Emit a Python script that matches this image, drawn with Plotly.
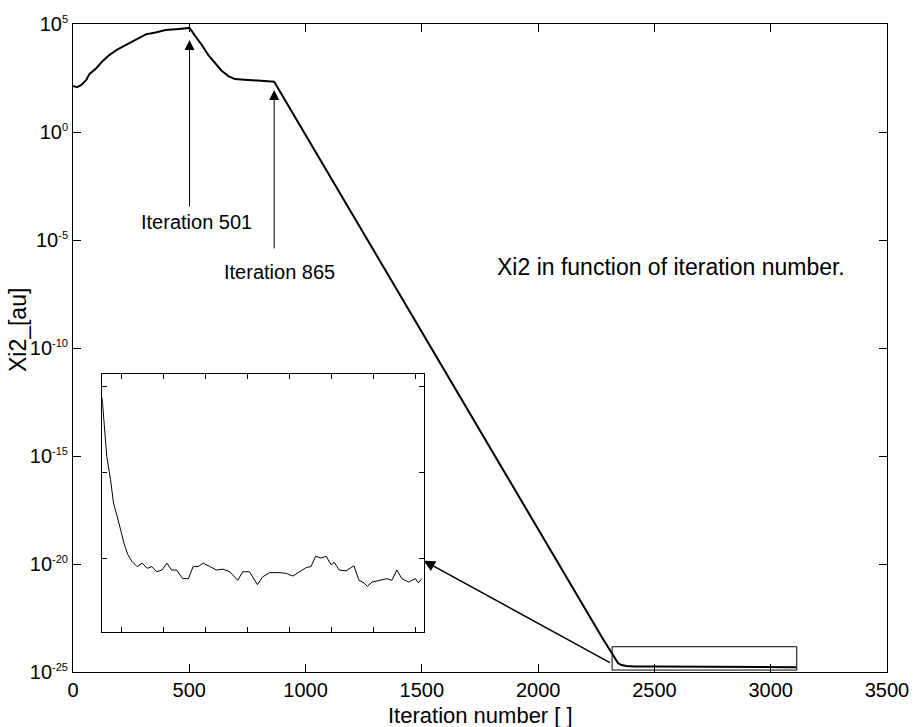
import plotly.graph_objects as go

# ---- main curve (iteration, log10 Xi2) ----
main_iter = [0, 17, 36, 57, 71, 100, 128, 156, 192, 228, 270, 313, 355, 398, 455, 494, 501,
             526, 554, 582, 611, 639, 668, 682, 696, 753, 824, 865,
             2273, 2300, 2315, 2330, 2344, 2358, 2380, 2414, 2499, 3110]
main_log = [2.13, 2.07, 2.18, 2.41, 2.69, 2.95, 3.29, 3.56, 3.83, 4.03, 4.29, 4.52, 4.61, 4.72,
            4.77, 4.81, 4.82, 4.44, 4.03, 3.56, 3.18, 2.84, 2.59, 2.51, 2.45, 2.41, 2.38, 2.33,
            -23.37, -23.85, -24.13, -24.4, -24.6, -24.68, -24.72, -24.74, -24.75, -24.78]

# ---- inset curve (zoom of the tail) ----
inset_iter = [2355, 2360, 2366, 2375, 2382, 2391, 2399, 2407, 2416, 2426, 2438, 2450, 2462,
              2473, 2485, 2497, 2509, 2520, 2532, 2546, 2560, 2571, 2583, 2595, 2611, 2626,
              2642, 2658, 2677, 2689, 2705, 2724, 2736, 2753, 2777, 2793, 2808, 2824, 2840,
              2851, 2862, 2875, 2887, 2899, 2906, 2918, 2934, 2953, 2965, 2977, 2985, 2996,
              3012, 3032, 3043, 3055, 3067, 3083, 3099, 3106, 3114]
inset_log = [-22.14, -22.51, -22.82, -23.09, -23.36, -23.52, -23.67, -23.83, -23.96, -24.04,
             -24.10, -24.06, -24.12, -24.10, -24.16, -24.14, -24.06, -24.14, -24.14, -24.24,
             -24.24, -24.10, -24.10, -24.06, -24.10, -24.14, -24.13, -24.16, -24.26, -24.16,
             -24.16, -24.31, -24.22, -24.17, -24.17, -24.18, -24.21, -24.16, -24.11, -24.10,
             -23.98, -24.00, -23.98, -24.08, -24.05, -24.14, -24.15, -24.09, -24.26, -24.29,
             -24.33, -24.28, -24.26, -24.24, -24.26, -24.14, -24.24, -24.28, -24.24, -24.29,
             -24.24]

x_ticks = [0, 500, 1000, 1500, 2000, 2500, 3000, 3500]
y_tick_exp = [5, 0, -5, -10, -15, -20, -25]
y_tick_text = ["10<sup><span style='font-size:11px'>%d</span></sup>" % e for e in y_tick_exp]
inset_xticks = [2400, 2500, 2600, 2700, 2800, 2900, 3000, 3100]
inset_ytick_exp = [-22, -23, -24]

FONT = "Liberation Sans, Arial, sans-serif"

fig = go.Figure()
fig.add_trace(go.Scatter(x=main_iter, y=[10 ** v for v in main_log], mode="lines",
                         line=dict(color="black", width=2),
                         showlegend=False, xaxis="x", yaxis="y"))
fig.add_trace(go.Scatter(x=inset_iter, y=[10 ** v for v in inset_log], mode="lines",
                         line=dict(color="black", width=1), showlegend=False,
                         xaxis="x2", yaxis="y2"))

axis_common = dict(showgrid=False, zeroline=False, showline=True, linecolor="black",
                   linewidth=1, mirror="ticks", ticks="inside", tickcolor="black")

fig.update_layout(
    width=921, height=727,
    margin=dict(l=73, r=27, t=24, b=55),
    paper_bgcolor="white", plot_bgcolor="white",
    font=dict(family=FONT, size=20, color="black"),
    xaxis=dict(range=[0, 3500], tickvals=x_ticks, ticklen=8, domain=[0, 1],
               tickfont=dict(size=20), ticklabeloverflow="allow", **axis_common),
    yaxis=dict(type="log", range=[-25, 5], tickvals=[10 ** e for e in y_tick_exp],
               ticktext=y_tick_text, ticklen=8, domain=[0, 1],
               tickfont=dict(size=20), **axis_common),
    xaxis2=dict(range=[2355, 3120], tickvals=inset_xticks, showticklabels=False,
                ticklen=5, domain=[0.0358, 0.4315], anchor="y2", **axis_common),
    yaxis2=dict(type="log", range=[-24.857, -21.86], tickvals=[10 ** e for e in inset_ytick_exp],
                showticklabels=False, ticklen=5, domain=[0.0622, 0.4599], anchor="x2",
                **axis_common),
)

# zoom box on main axes
fig.add_shape(type="rect", xref="x", yref="y", x0=2318, x1=3112,
              y0=10 ** -24.91, y1=10 ** -23.83, line=dict(color="black", width=1))

annots = [
    # arrows
    dict(x=501, y=4.26, ax=501, ay=-3.52, xref="x", yref="y", axref="x", ayref="y",
         showarrow=True, arrowhead=2, arrowsize=2, arrowwidth=1, arrowcolor="black", text=""),
    dict(x=865, y=1.94, ax=865, ay=-5.46, xref="x", yref="y", axref="x", ayref="y",
         showarrow=True, arrowhead=2, arrowsize=2, arrowwidth=1, arrowcolor="black", text=""),
    dict(x=1508, y=-19.85, ax=2315, ay=-24.6, xref="x", yref="y", axref="x", ayref="y",
         showarrow=True, arrowhead=2, arrowsize=1.5, arrowwidth=1.5, arrowcolor="black", text=""),
    # labels
    dict(x=531, y=-4.17, xref="x", yref="y", text="Iteration 501", showarrow=False,
         font=dict(size=20)),
    dict(x=888, y=-6.47, xref="x", yref="y", text="Iteration 865", showarrow=False,
         font=dict(size=20)),
    dict(x=2570, y=-6.24, xref="x", yref="y", text="Xi2 in function of iteration number.",
         showarrow=False, font=dict(size=23)),
    # axis titles
    dict(x=0.5, y=-0.0664, xref="paper", yref="paper", text="Iteration number [ ]",
         showarrow=False, font=dict(size=22), xanchor="center", yanchor="middle"),
    dict(x=-0.0673, y=0.528, xref="paper", yref="paper", text="Xi2_[au]", textangle=-90,
         showarrow=False, font=dict(size=23), xanchor="center", yanchor="middle"),
]
fig.update_layout(annotations=annots)

fig.write_html("out.html")
